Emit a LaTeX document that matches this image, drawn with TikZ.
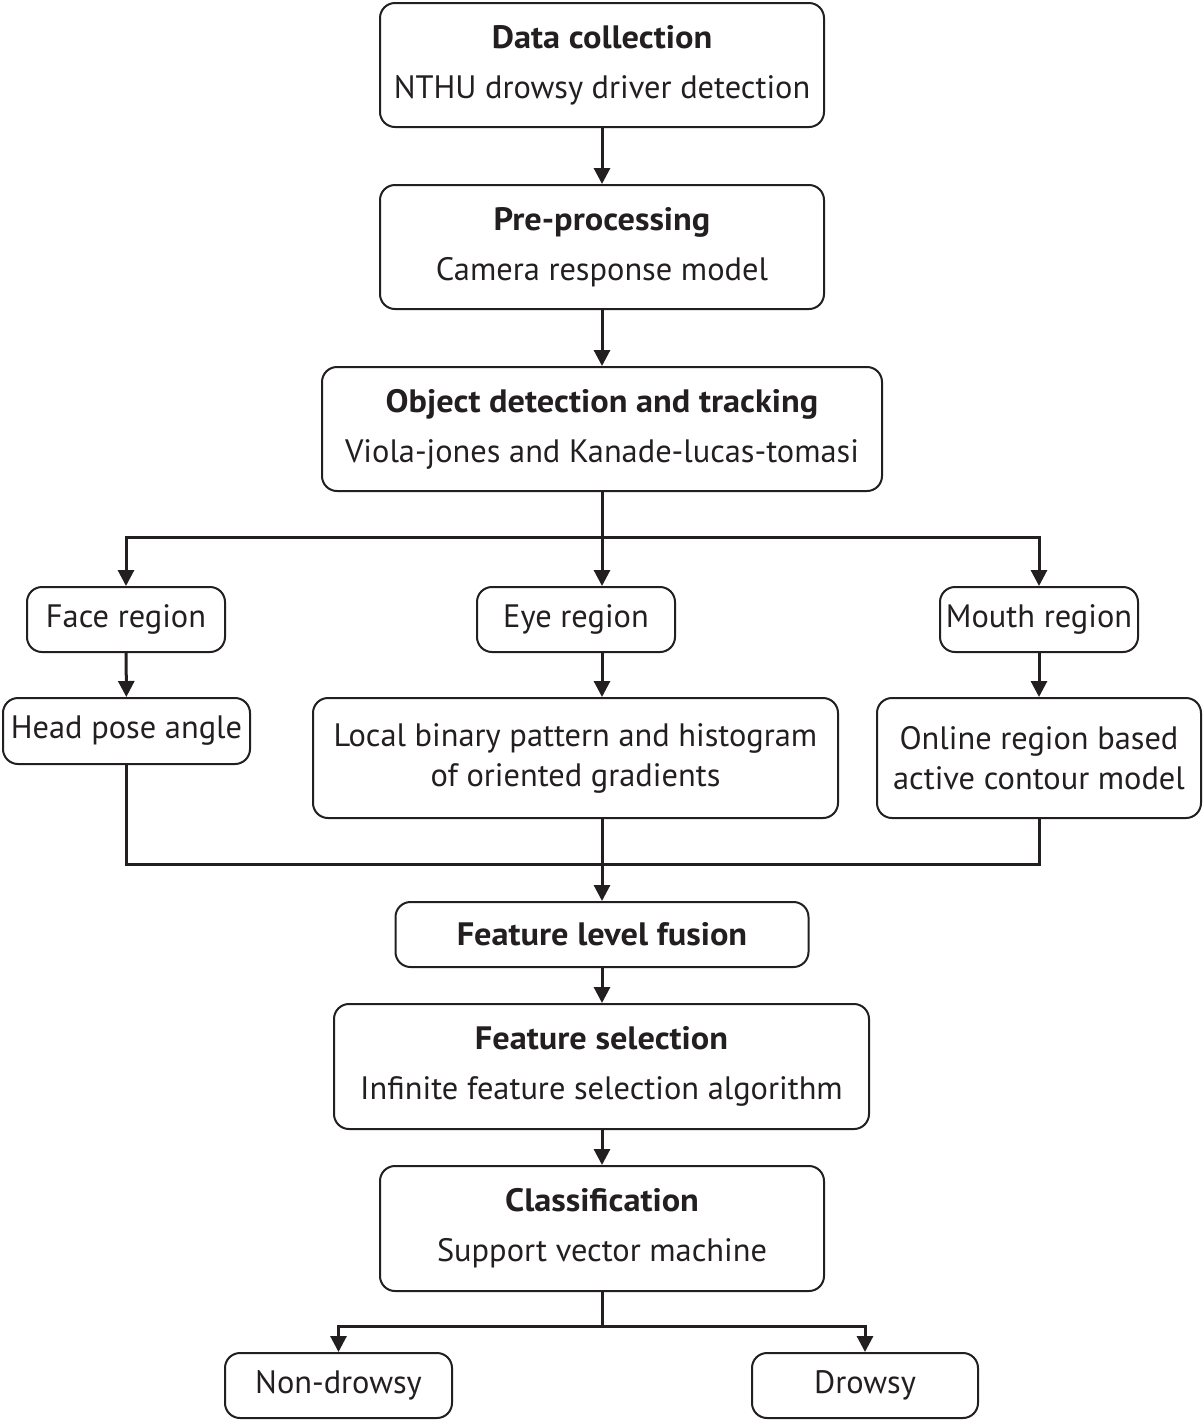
\documentclass[tikz,border=0pt]{standalone}
\usepackage{fontspec}
\setmainfont{PT Sans}[BoldFeatures={FakeStretch=1.06}]
\usepackage{tikz}
\usetikzlibrary{arrows.meta, positioning}
\usepackage{xcolor}
\definecolor{ink}{RGB}{35,31,32}

\tikzset{
	box/.style={draw=ink, text=ink, line width=1pt, rounded corners=7.5pt, align=center, inner sep=0pt,
		font=\fontsize{16.2}{25}\selectfont},
	twobox/.style={box, font=\fontsize{16.2}{20}\selectfont},
	link/.style={draw=ink, line width=1.5pt},
	arr/.style={link, -{Triangle[length=8pt,width=8pt]}}
}

\begin{document}
\begin{tikzpicture}[x=0.5pt,y=-0.5pt]
				\useasboundingbox (0,0) rectangle (1204,1421);
				% main column
				\node[box, minimum width=222pt, minimum height=62pt] (data) at (602,65) {\textbf{Data collection}\\NTHU drowsy driver detection};
				\node[box, minimum width=222pt, minimum height=62pt] (pre) at (602,247) {\textbf{Pre-processing}\\Camera response model};
				\node[box, minimum width=280pt, minimum height=62pt] (obj) at (602,429) {\textbf{Object detection and tracking}\\Viola-jones and Kanade-lucas-tomasi};
				% regions
				\node[box, minimum width=99pt, minimum height=32.5pt] (face) at (126,619.5) {Face region};
				\node[box, minimum width=99pt, minimum height=32.5pt] (eye) at (576,619.5) {Eye region};
				\node[box, minimum width=99pt, minimum height=32.5pt] (mouth) at (1039,619.5) {Mouth region};
				% features
				\node[box, minimum width=123.5pt, minimum height=33pt] (head) at (126.5,731) {Head pose angle};
				\node[twobox, minimum width=262.5pt, minimum height=60pt] (lbp) at (575.5,758) {Local binary pattern and histogram\\of oriented gradients};
				\node[twobox, minimum width=162pt, minimum height=60pt] (online) at (1039,758) {Online region based\\active contour model};
				% fusion and below
				\node[box, minimum width=206.5pt, minimum height=32.5pt] (fusion) at (602,934.5) {\textbf{Feature level fusion}};
				\node[box, minimum width=267.5pt, minimum height=62.5pt] (select) at (601.5,1066.5) {\textbf{Feature selection}\\Infinite feature selection algorithm};
				\node[box, minimum width=222pt, minimum height=62.5pt] (classify) at (602,1228.5) {\textbf{Classification}\\Support vector machine};
				\node[box, minimum width=113.5pt, minimum height=32.5pt] (nondrowsy) at (338.5,1385.5) {Non-drowsy};
				\node[box, minimum width=113pt, minimum height=32.5pt] (drowsy) at (865,1385.5) {Drowsy};
				% branch points
				\coordinate (split) at (602,537);
				\coordinate (merge) at (602,864);
				\coordinate (decide) at (602,1326);
				% connectors
				\draw[arr] (data) -- (pre);
				\draw[arr] (pre) -- (obj);
				\draw[link] (obj) -- (split);
				\draw[arr] (split) -| (face.north);
				\draw[arr] (split) -| (mouth.north);
				\draw[arr] (split) -- (split |- eye.north);
				\draw[arr] (face) -- (head);
				\draw[arr] (eye.south -| split) -- (lbp.north -| split);
				\draw[arr] (mouth) -- (online);
				\draw[link] (head.south) |- (merge);
				\draw[link] (online.south) |- (merge);
				\draw[arr] (lbp.south -| merge) -- (fusion.north -| merge);
				\draw[arr] (fusion) -- (fusion |- select.north);
				\draw[arr] (select.south -| classify) -- (classify);
				\draw[link] (classify) -- (decide);
				\draw[arr] (decide) -| (nondrowsy.north);
				\draw[arr] (decide) -| (drowsy.north);
\end{tikzpicture}
\end{document}
